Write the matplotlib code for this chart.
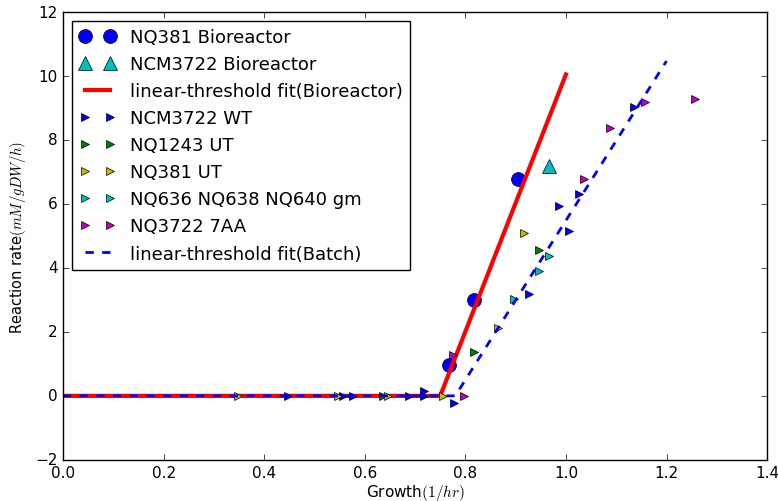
import numpy as np
import matplotlib
matplotlib.use("Agg")
import matplotlib.pyplot as plt

plt.style.use('classic')
plt.rcParams['font.size'] = 11

# bioreactor data
bio381_x = [0.768, 0.817, 0.905]
bio381_y = [0.97, 3.0, 6.78]
bio3722_x = [0.966]
bio3722_y = [7.19]

# batch data
wt_x = [0.447, 0.556, 0.577, 0.688, 0.718, 0.718, 0.777, 0.927, 0.986, 1.006, 1.026, 1.135]
wt_y = [0.0, 0.0, 0.0, 0.0, 0.16, 0.0, -0.22, 3.19, 5.94, 5.16, 6.31, 9.03]
ut1243_x = [0.636, 0.817, 0.947]
ut1243_y = [0.0, 1.37, 4.56]
ut381_x = [0.347, 0.547, 0.646, 0.756, 0.865, 0.917]
ut381_y = [0.0, 0.0, 0.0, 0.0, 2.12, 5.09]
gm_x = [0.897, 0.947, 0.966]
gm_y = [3.03, 3.9, 4.38]
aa_x = [0.776, 0.797, 1.036, 1.088, 1.157, 1.257]
aa_y = [1.28, 0.0, 6.78, 8.38, 9.2, 9.28]

# linear-threshold fits (breakpoints)
fit_bio_x = [0.0, 0.75, 1.0]
fit_bio_y = [0.0, 0.0, 10.05]
fit_batch_x = [0.0, 0.78, 1.2]
fit_batch_y = [0.0, 0.0, 10.47]

fig = plt.figure(figsize=(7.78, 5.02), dpi=100)
ax = fig.add_axes([0.081, 0.082, 0.905, 0.892])

ax.plot(bio381_x, bio381_y, 'bo', ms=10, label='NQ381 Bioreactor')
ax.plot(bio3722_x, bio3722_y, 'c^', ms=10, label='NCM3722 Bioreactor')
ax.plot(fit_bio_x, fit_bio_y, 'r-', lw=3, label='linear-threshold fit(Bioreactor)')
ax.plot(wt_x, wt_y, 'b>', ms=6, label='NCM3722 WT')
ax.plot(ut1243_x, ut1243_y, 'g>', ms=6, label='NQ1243 UT')
ax.plot(ut381_x, ut381_y, 'y>', ms=6, label='NQ381 UT')
ax.plot(gm_x, gm_y, 'c>', ms=6, label='NQ636 NQ638 NQ640 gm')
ax.plot(aa_x, aa_y, 'm>', ms=6, label='NQ3722 7AA')
ax.plot(fit_batch_x, fit_batch_y, 'b--', lw=2, label='linear-threshold fit(Batch)')

ax.set_xlim(0, 1.4)
ax.set_ylim(-2, 12)
ax.set_xlabel('Growth$(1/hr)$', fontsize=11, labelpad=1)
ax.set_ylabel('Reaction rate$(mM/gDW/h)$', fontsize=10.5)
ax.legend(loc='upper left', fontsize=13, labelspacing=0.5)

fig.savefig('out.png', dpi=100)
